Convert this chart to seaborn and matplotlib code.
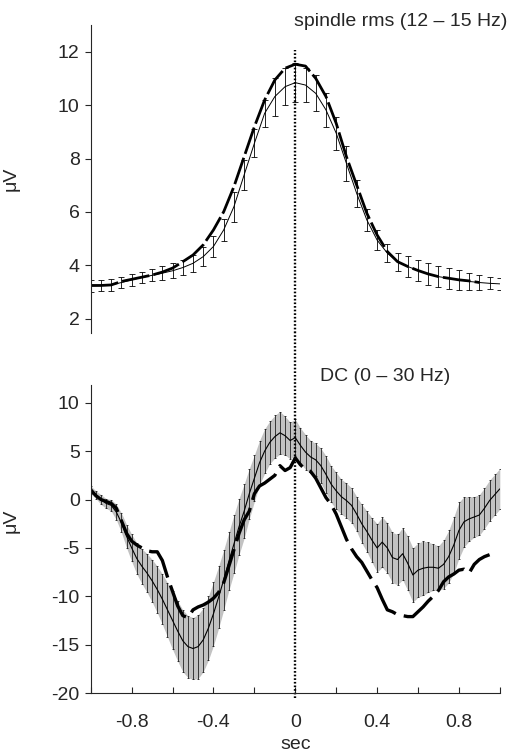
import numpy as np
import seaborn as sns
import matplotlib.pyplot as plt
from matplotlib.ticker import MultipleLocator, FuncFormatter

# ---- data: spindle rms (top panel), 0.05 s steps ----
sec_rms = [-1.0, -0.95, -0.9, -0.85, -0.8, -0.75, -0.7, -0.65, -0.6, -0.55,
           -0.5, -0.45, -0.4, -0.35, -0.3, -0.25, -0.2, -0.15, -0.1, -0.05,
           0.0, 0.05, 0.1, 0.15, 0.2, 0.25, 0.3, 0.35, 0.4, 0.45,
           0.5, 0.55, 0.6, 0.65, 0.7, 0.75, 0.8, 0.85, 0.9, 0.95, 1.0]
rms_mean = [3.23, 3.25, 3.27, 3.36, 3.46, 3.55, 3.63, 3.71, 3.80, 3.92,
            4.08, 4.33, 4.71, 5.33, 6.20, 7.39, 8.57, 9.69, 10.32, 10.69,
            10.84, 10.75, 10.44, 9.82, 8.95, 7.82, 6.70, 5.70, 4.95, 4.46,
            4.14, 3.96, 3.81, 3.68, 3.58, 3.52, 3.46, 3.40, 3.36, 3.33, 3.31]
rms_se = [0.22, 0.22, 0.22, 0.22, 0.22, 0.22, 0.22, 0.25, 0.28, 0.28,
          0.31, 0.37, 0.40, 0.40, 0.56, 0.56, 0.53, 0.50, 0.71, 0.69,
          0.72, 0.65, 0.67, 0.65, 0.62, 0.65, 0.50, 0.40, 0.37, 0.34,
          0.34, 0.40, 0.40, 0.40, 0.40, 0.40, 0.37, 0.31, 0.28, 0.23, 0.23]
sec_rms2 = sec_rms[:39]
rms_other = [3.25, 3.25, 3.27, 3.40, 3.48, 3.56, 3.64, 3.75, 3.90, 4.14,
             4.39, 4.77, 5.33, 6.01, 6.95, 8.07, 9.19, 10.19, 10.94, 11.38,
             11.53, 11.46, 11.00, 10.32, 9.32, 8.07, 7.01, 5.95, 5.14, 4.52,
             4.14, 3.96, 3.81, 3.68, 3.58, 3.52, 3.46, 3.42, 3.36]

# ---- data: DC potential (bottom panel), 0.025 s steps ----
sec_dc = [round(-1.0 + 0.025 * i, 3) for i in range(81)]
dc_mean = [1.0, 0.5, 0.0, -0.4, -0.6, -1.3, -2.4, -3.8, -5.0, -6.1,
           -6.9, -7.6, -8.4, -9.3, -10.3, -11.4, -12.5, -13.6, -14.6, -15.2,
           -15.4, -15.2, -14.5, -13.3, -11.8, -10.1, -8.3, -6.4, -4.6, -2.8,
           -1.2, 0.6, 2.2, 3.8, 5.0, 5.9, 6.5, 6.9, 6.6, 6.1,
           6.4, 5.6, 4.9, 4.4, 4.1, 3.5, 2.6, 1.6, 0.9, 0.3,
           -0.1, -0.6, -1.5, -2.5, -3.3, -4.2, -5.0, -4.4, -5.0, -6.0,
           -6.2, -5.6, -6.6, -7.8, -7.3, -7.1, -7.0, -7.0, -7.1, -6.7,
           -5.9, -4.7, -3.2, -2.3, -2.0, -1.8, -1.6, -0.9, -0.1, 0.5, 1.1]
dc_se = [0.4, 0.4, 0.5, 0.5, 0.6, 0.8, 1.0, 1.2, 1.4, 1.6,
         1.8, 2.0, 2.2, 2.4, 2.6, 2.8, 3.0, 3.1, 3.2, 3.2,
         3.2, 3.3, 3.3, 3.3, 3.3, 3.2, 3.1, 3.0, 3.0, 2.9,
         2.8, 2.6, 2.4, 2.3, 2.3, 2.2, 2.2, 2.2, 2.0, 1.9,
         1.9, 1.8, 1.8, 1.7, 1.7, 1.8, 1.9, 1.9, 1.9, 1.8,
         1.8, 1.8, 1.8, 2.0, 2.1, 2.3, 2.5, 2.6, 2.6, 2.6,
         2.6, 2.7, 2.8, 2.8, 2.8, 2.8, 2.6, 2.4, 2.3, 2.5,
         2.7, 2.9, 2.9, 2.6, 2.3, 2.1, 2.1, 2.1, 2.1, 2.1, 2.1]
sec_dc2 = sec_dc[:79]
dc_other = [1.0, 0.4, 0.0, -0.2, -0.4, -0.9, -2.2, -3.5, -4.3, -4.7,
            -5.0, -5.3, -5.4, -5.4, -6.3, -8.0, -9.5, -11.0, -12.0, -12.2,
            -11.4, -11.1, -10.9, -10.6, -10.2, -9.6, -8.6, -6.9, -5.2, -3.5,
            -2.1, -1.2, 0.6, 1.4, 1.7, 2.1, 2.5, 3.5, 3.0, 3.3,
            4.3, 3.6, 3.1, 2.9, 2.2, 1.2, 0.2, -0.5, -1.5, -2.8,
            -4.1, -5.1, -5.9, -6.5, -7.4, -8.3, -9.1, -10.3, -11.4, -11.6,
            -11.9, -12.0, -12.1, -12.1, -11.6, -11.1, -10.5, -10.0, -9.4, -8.5,
            -8.0, -7.7, -7.3, -7.2, -7.6, -6.7, -6.2, -5.9, -5.7]

sns.set_style("ticks")
plt.rcParams['font.family'] = ['Liberation Sans', 'DejaVu Sans']
plt.rcParams['axes.unicode_minus'] = False
plt.rcParams['lines.scale_dashes'] = False

FS = 14

fig = plt.figure(figsize=(5.1, 7.56), dpi=100)
ax1 = fig.add_axes([0.178, 0.5595, 0.802, 0.4075])
ax2 = fig.add_axes([0.178, 0.0833, 0.802, 0.4077])

# top panel
sns.lineplot(x=sec_rms, y=rms_mean, ax=ax1, color='black', lw=0.7)
ax1.errorbar(sec_rms, rms_mean, yerr=rms_se, fmt='none', ecolor='black',
             elinewidth=0.6, capsize=2.4, capthick=0.6)
sns.lineplot(x=sec_rms2, y=rms_other, ax=ax1, color='black', lw=2.0,
             linestyle=(0, (20, 3)))
ax1.set_xlim(-1, 1)
ax1.set_ylim(1.47, 13.0)
ax1.set_yticks([2, 4, 6, 8, 10, 12])
ax1.set_xticks([])
for s in ['top', 'right', 'bottom']:
    ax1.spines[s].set_visible(False)
ax1.spines['left'].set_linewidth(0.8)
ax1.plot([0, 0], [1.47, 12.05], color='black', lw=1.7, ls=(0, (1.2, 1.4)),
         clip_on=False)
ax1.set_ylabel('μV', fontsize=FS)
ax1.yaxis.set_label_coords(-0.175, 0.5)

# bottom panel
ax2.fill_between(sec_dc, np.array(dc_mean) - np.array(dc_se),
                 np.array(dc_mean) + np.array(dc_se), color='0.76', lw=0)
ax2.errorbar(sec_dc, dc_mean, yerr=dc_se, fmt='none', ecolor='black',
             elinewidth=0.5, capsize=1.0, capthick=0.5)
sns.lineplot(x=sec_dc, y=dc_mean, ax=ax2, color='black', lw=0.8)
sns.lineplot(x=sec_dc2, y=dc_other, ax=ax2, color='black', lw=2.4,
             linestyle=(0, (26, 6)))
ax2.set_xlim(-1, 1)
ax2.set_ylim(-20, 11.86)
ax2.set_yticks([-20, -15, -10, -5, 0, 5, 10])
ax2.xaxis.set_major_locator(MultipleLocator(0.2))
ax2.xaxis.set_major_formatter(FuncFormatter(
    lambda v, p: ('0' if abs(v) < 1e-9 else f'{v:g}') if abs(round(v / 0.4) * 0.4 - v) < 1e-6 and abs(v) < 0.99 else ''))
ax2.tick_params(axis='x', direction='in', length=4, width=0.8, labelsize=FS, pad=15)
for s in ['top', 'right']:
    ax2.spines[s].set_visible(False)
ax2.spines['left'].set_linewidth(0.8)
ax2.spines['bottom'].set_linewidth(0.8)
ax2.plot([0, 0], [-20.5, 11.86 + 31.86 * 0.169], color='black', lw=1.7,
         ls=(0, (1.2, 1.4)), clip_on=False)
ax2.set_ylabel('μV', fontsize=FS)
ax2.yaxis.set_label_coords(-0.175, 0.56)
ax2.set_xlabel('sec', fontsize=FS)
ax2.xaxis.set_label_coords(0.5, -0.14)

for ax in (ax1, ax2):
    ax.tick_params(axis='y', direction='out', length=4, width=0.8, labelsize=FS, pad=4)

fig.text(0.994, 0.972, 'spindle rms (12 – 15 Hz)', ha='right', va='center', fontsize=FS)
fig.text(0.627, 0.502, 'DC (0 – 30 Hz)', ha='left', va='center', fontsize=FS)

fig.savefig('out.png', dpi=100)
